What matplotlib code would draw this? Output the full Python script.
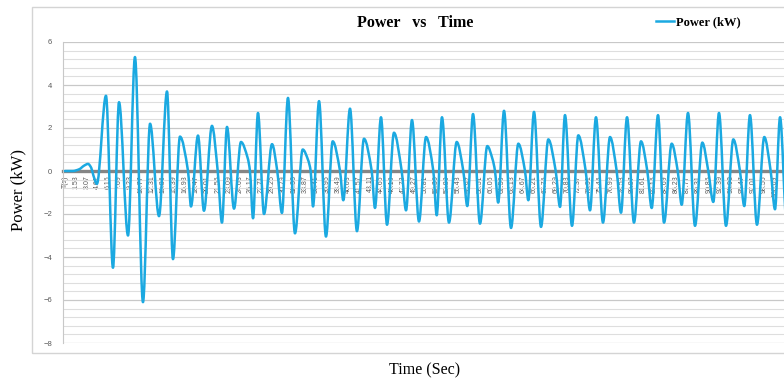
import matplotlib
matplotlib.use("Agg")
import matplotlib.pyplot as plt
from matplotlib.patches import Rectangle, PathPatch
from matplotlib.path import Path
from matplotlib.lines import Line2D
from matplotlib.ticker import MultipleLocator

# ---- data (time in s, power in kW) ----
time_s = [0, 1.1, 2.0, 2.7, 3.25, 3.7, 4.0, 4.5,
          5.78, 6.77, 7.62, 8.89, 9.87, 11.0, 12.0, 13.26, 14.39, 15.23,
          16.22, 17.35, 17.77, 18.76, 19.6, 20.73, 21.54, 22.14, 22.85, 23.84,
          24.82, 25.77, 26.09, 26.52, 27.22, 28.07, 29.2, 29.94, 30.6,
          31.45, 32.44, 33.53, 34.3, 34.65, 34.98,
          35.83, 36.81, 37.76, 38.79, 39.25,
          40.2, 41.18, 42.17, 43.26, 43.72,
          44.57, 45.42, 46.4, 47.49, 48.1,
          48.94, 49.93, 50.92, 51.95, 52.43,
          53.17, 54.16, 55.25, 56.18, 56.74,
          57.55, 58.53, 59.56, 60.3, 60.65, 61.1,
          61.92, 62.91, 63.94, 64.88, 65.35,
          66.15, 67.14, 68.17, 69.21, 69.82,
          70.52, 71.51, 72.4, 73.44, 74.05,
          74.89, 75.88, 76.87, 77.81, 78.42,
          79.27, 80.25, 81.24, 82.13, 82.75,
          83.64, 84.49, 85.57, 86.42, 86.98,
          87.87, 88.86, 89.89, 90.73, 91.44,
          92.24, 93.23, 94.26, 95.2, 95.81,
          96.61, 97.6, 98.63, 99.53, 100.14,
          100.85, 101.8]
power_kw = [0, 0, 0.08, 0.25, 0.33, 0.15, -0.2, -0.6,
            3.5, -4.5, 3.2, -3.0, 5.3, -6.1, 2.2, -2.1, 3.7, -4.1,
            1.6, 0, -1.65, 1.65, -1.85, 2.1, 0, -2.4, 2.05, -1.75,
            1.35, 0.6, 0, -2.2, 2.7, -2.0, 1.25, 0, -1.95,
            3.4, -2.9, 1.0, 0.5, 0, -1.65,
            3.25, -3.05, 1.38, 0, -1.36,
            2.9, -2.8, 1.5, 0, -1.72,
            2.5, -2.5, 1.78, 0, -1.83,
            2.37, -2.35, 1.58, 0, -2.06,
            2.5, -2.4, 1.35, 0, -1.63,
            2.65, -2.45, 1.16, 0.55, 0, -1.47,
            2.8, -2.65, 1.27, 0, -1.36,
            2.75, -2.6, 1.47, 0, -1.67,
            2.6, -2.55, 1.66, 0, -1.83,
            2.5, -2.4, 1.58, 0, -1.94,
            2.5, -2.4, 1.38, 0, -1.72,
            2.6, -2.4, 1.27, 0, -1.57,
            2.7, -2.55, 1.32, 0, -1.44,
            2.7, -2.55, 1.47, 0, -1.63,
            2.6, -2.5, 1.58, 0, -1.78,
            2.5, -2.5]

tick_labels = ["T(s)", "1.53", "3.07", "4.61", "6.15", "7.69", "9.23", "10.77",
               "12.31", "13.85", "15.39", "16.93", "18.47", "20.01", "21.55",
               "23.09", "24.63", "26.17", "27.71", "29.25", "30.79", "32.33",
               "33.87", "35.41", "36.95", "38.49", "40.03", "41.57", "43.11",
               "44.65", "46.19", "47.73", "49.27", "50.81", "52.35", "53.89",
               "55.43", "56.97", "58.51", "60.05", "61.59", "63.13", "64.67",
               "66.21", "67.75", "69.29", "70.83", "72.37", "73.91", "75.45",
               "76.99", "78.53", "80.07", "81.61", "83.15", "84.69", "86.23",
               "87.77", "89.31", "90.85", "92.39", "93.93", "95.47", "97.01",
               "98.55", "100.09"]
tick_pos = [0.0 if s == "T(s)" else float(s) for s in tick_labels]

W, H = 784, 381
LINE_COLOR = "#1ba9e1"
fig = plt.figure(figsize=(W / 100, H / 100), dpi=100)

# outer chart border
fig.patches.append(Rectangle((32 / W, 1 - 353 / H), 1.2, (353 - 7) / H,
                             transform=fig.transFigure, fill=False,
                             edgecolor="#d4d4d4", linewidth=1.0, zorder=0))

ax = fig.add_axes([63 / W, 1 - 343 / H, 1 - 63 / W, (343 - 42) / H])
ax.set_facecolor("none")

# spine position first (it resets tick settings)
ax.spines["bottom"].set_position(("data", 0))
ax.spines["bottom"].set_color("#858585")
ax.spines["bottom"].set_linewidth(2.4)
ax.spines["bottom"].set_zorder(2)
ax.spines["left"].set_color("#c8c8c8")
ax.spines["left"].set_linewidth(0.8)
ax.spines["top"].set_visible(False)
ax.spines["right"].set_visible(False)


# smoothed line (like Excel's "smoothed line" option): cubic Bezier segments
def smooth_path(xs, ys):
    n = len(xs)
    m = []
    for i in range(n):
        if i == 0 or i == n - 1:
            m.append(0.0)
            continue
        s0 = (ys[i] - ys[i - 1]) / (xs[i] - xs[i - 1])
        s1 = (ys[i + 1] - ys[i]) / (xs[i + 1] - xs[i])
        if s0 * s1 <= 0:
            m.append(0.0)
        else:
            m.append(2 * s0 * s1 / (s0 + s1))
    verts = [(xs[0], ys[0])]
    codes = [Path.MOVETO]
    for i in range(n - 1):
        dx = (xs[i + 1] - xs[i]) / 3.0
        verts += [(xs[i] + dx, ys[i] + m[i] * dx),
                  (xs[i + 1] - dx, ys[i + 1] - m[i + 1] * dx),
                  (xs[i + 1], ys[i + 1])]
        codes += [Path.CURVE4] * 3
    return Path(verts, codes)


ax.add_patch(PathPatch(smooth_path(time_s, power_kw), fill=False,
                       edgecolor=LINE_COLOR, linewidth=1.8,
                       joinstyle="round", capstyle="round", zorder=3))

ax.set_xlim(-0.28, 101.41)
ax.set_ylim(-8, 6)
ax.yaxis.set_major_locator(MultipleLocator(2))
ax.yaxis.set_minor_locator(MultipleLocator(0.4))
ax.grid(which="major", axis="y", color="#c8c8c8", linewidth=0.9)
ax.grid(which="minor", axis="y", color="#dedede", linewidth=0.8)
ax.set_axisbelow(True)

ax.set_xticks(tick_pos)
ax.set_xticklabels(tick_labels, rotation=90, fontsize=5,
                   family="Liberation Sans", color="#595959", va="top")
ax.tick_params(axis="x", length=0, pad=3)
ax.tick_params(axis="y", which="both", length=0, pad=8,
               labelsize=5.5, labelcolor="#595959")
for lab in ax.get_yticklabels():
    lab.set_family("Liberation Sans")

fig.text(415 / W, 1 - 23 / H, "Power   vs   Time", ha="center", va="center",
         family="Liberation Serif", fontweight="bold", fontsize=11.5)
fig.text(18 / W, 1 - 190 / H, "Power (kW)", ha="center", va="center",
         rotation=90, family="Liberation Serif", fontsize=12)
fig.text(425 / W, 1 - 370 / H, "Time (Sec)", ha="center", va="center",
         family="Liberation Serif", fontsize=11.5)

handle = Line2D([], [], color=LINE_COLOR, linewidth=1.8, label="Power (kW)")
fig.legend(handles=[handle], loc="center left",
           bbox_to_anchor=(656 / W, 1 - 22 / H), frameon=False,
           prop={"family": "Liberation Serif", "weight": "bold", "size": 9},
           handlelength=1.45, handletextpad=0.15, borderpad=0,
           borderaxespad=0)

fig.savefig("out.png", dpi=100)
